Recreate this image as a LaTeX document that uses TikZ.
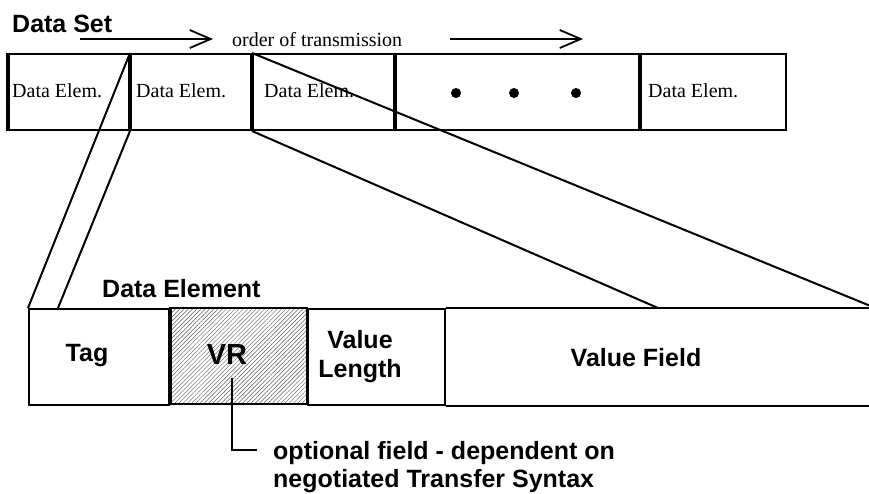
\documentclass[tikz,border=0pt]{standalone}
\usepackage{fontspec}
\setmainfont{Liberation Serif}
\newfontfamily\arialfont[BoldFont={Liberation Sans Bold}]{Liberation Sans}
\usepackage{tikz}
\usetikzlibrary{arrows.meta,patterns.meta,positioning}

\tikzset{
  cell/.style={draw, line width=2pt, minimum height=76pt, inner sep=0pt, anchor=north west},
  field/.style={cell, minimum height=96pt},
  elemlabel/.style={font=\fontsize{20}{24}\selectfont, inner sep=0pt, anchor=base west},
  boldlabel/.style={font=\arialfont\bfseries\fontsize{25}{30}\selectfont, inner sep=0pt, anchor=base},
  fan/.style={line width=2pt},
  orderarrow/.style={line width=1.8pt, -{Straight Barb[length=21pt,width=18pt,line width=1.8pt]}},
  dotmark/.style={circle, fill, inner sep=0pt, minimum size=10pt},
  hatch/.style={pattern={Lines[angle=45,distance=3pt,line width=0.45pt]}, pattern color=black!65},
}

\begin{document}
\begin{tikzpicture}[x=1pt,y=-1pt]
        \useasboundingbox (0,0) rectangle (869,493);

        \node[boldlabel, anchor=base west] (dset) at (12,32) {Data Set};
        \coordinate (arr1s) at (80,39);
        \coordinate (arr1e) at (213,39);
        \coordinate (arr2s) at (450,39);
        \coordinate (arr2e) at (583,39);
        \draw[orderarrow] (arr1s) -- (arr1e);
        \draw[orderarrow] (arr2s) -- (arr2e);
        \node[elemlabel] (otrans) at (232,46) {order of transmission};

        \node[cell, minimum width=120] (de1) at (8,53) {};
        \node[cell, minimum width=120] (de2) at (de1.north east) {};
        \node[cell, minimum width=141] (de3) at (de2.north east) {};
        \node[cell, minimum width=243] (dedots) at (de3.north east) {};
        \node[cell, minimum width=145] (de5) at (dedots.north east) {};
        \draw[line width=3.5pt] (de1.north west) -- (de1.south west);

        \node[elemlabel] (de1txt) at (12,97) {Data Elem.};
        \node[elemlabel] (de2txt) at (136,97) {Data Elem.};
        \node[elemlabel] (de3txt) at (264,97) {Data Elem.};
        \node[elemlabel] (de5txt) at (648,97) {Data Elem.};
        \foreach \x/\n in {456/1,514/2,576/3}
            \node[dotmark] (dot\n) at (\x,93) {};

        \node[boldlabel, anchor=base west] (delem) at (102,297) {Data Element};
        \node[field, minimum width=140] (tag) at (28,308) {};
        \node[field, minimum width=137, hatch] (vr) at (tag.north east) {};
        \node[field, minimum width=137] (vl) at (vr.north east) {};
        \node[field, draw=none, minimum width=427] (vf) at (vl.north east) {};
        \draw[fan] (vf.north west) -- (vf.north east);
        \draw[fan] (vf.south west) -- (vf.south east);
        \draw[line width=3pt] (vr.north west) -- (vr.south west);

        \node[boldlabel] (tagtxt) at (87,361) {Tag};
        \node[boldlabel, font=\arialfont\bfseries\fontsize{29}{34}\selectfont] (vrtxt) at (227,364) {VR};
        \node[boldlabel] (vltxt1) at (360,348) {Value};
        \node[boldlabel] (vltxt2) at (360,377) {Length};
        \node[boldlabel] (vftxt) at (636,366) {Value Field};

        \coordinate (tagin) at (58,308);
        \coordinate (vfin) at (658,308);
        \draw[fan] (de2.north west) -- (tag.north west);
        \draw[fan] (de2.south west) -- (tagin);
        \draw[fan] (de2.north east) -- (vf.north east);
        \draw[fan] (de2.south east) -- (vfin);

        \node[boldlabel, anchor=base west] (note1) at (273,459) {optional field - dependent on};
        \node[boldlabel, anchor=base west] (note2) at (273,487) {negotiated Transfer Syntax};
        \coordinate (vrfoot) at (232,378);
        \coordinate (notein) at (257,450);
        \draw[fan] (vrfoot) |- (notein);
    \end{tikzpicture}
\end{document}
